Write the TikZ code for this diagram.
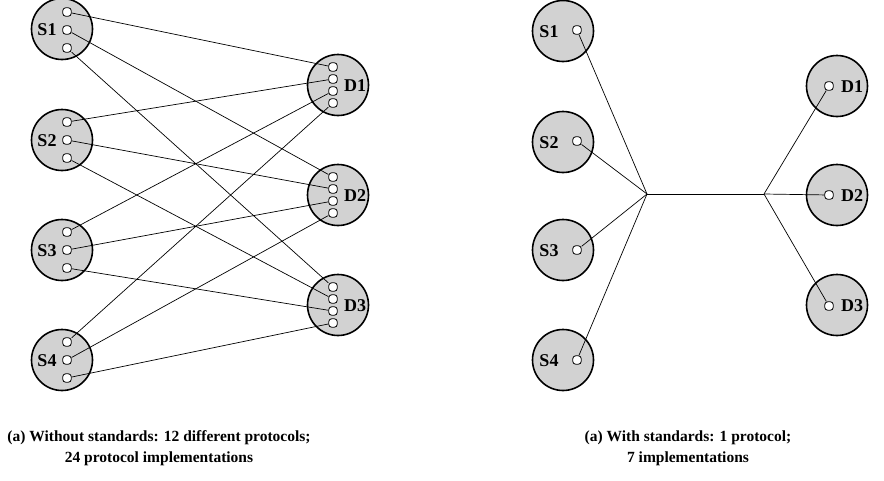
\documentclass[tikz,border=0pt]{standalone}
\usepackage{fontspec}
\setmainfont{Liberation Serif}
\begin{document}
\begin{tikzpicture}[
  x=1pt, y=-1pt,
  line width=0.7pt,
  host/.style = {circle, draw, fill=gray!35, line width=1.6pt, minimum size=61pt, inner sep=0},
  port/.style = {rectangle, rounded corners=3pt, draw, fill=white, line width=0.8pt, minimum size=8.5pt, inner sep=0},
  tag/.style = {font=\bfseries\fontsize{18}{18}\selectfont, inner sep=0},
  caption/.style = {font=\bfseries\fontsize{15.5}{21}\selectfont, align=center},
  ]
  \useasboundingbox (0,0) rectangle (884,480);

  % (a) without standards
  \node[host] (s1) at (62,29) {};
  \node[host] (s2) at (62,140) {};
  \node[host] (s3) at (62,250) {};
  \node[host] (s4) at (62,360) {};
  \node[host] (d1) at (338,85) {};
  \node[host] (d2) at (338,195) {};
  \node[host] (d3) at (338,305) {};

  \node[tag] (s1n) at (47,30) {S1};
  \node[tag] (s2n) at (47,141) {S2};
  \node[tag] (s3n) at (47,251) {S3};
  \node[tag] (s4n) at (47,361) {S4};
  \node[tag] (d1n) at (355,86) {D1};
  \node[tag] (d2n) at (355,196) {D2};
  \node[tag] (d3n) at (355,306) {D3};

  \node[port] (s1a) at (67,12) {};
  \node[port] (s1b) at (67,30) {};
  \node[port] (s1c) at (67,48) {};
  \node[port] (s2a) at (67,122) {};
  \node[port] (s2b) at (67,140) {};
  \node[port] (s2c) at (67,158) {};
  \node[port] (s3a) at (67,232) {};
  \node[port] (s3b) at (67,250) {};
  \node[port] (s3c) at (67,268) {};
  \node[port] (s4a) at (67,342) {};
  \node[port] (s4b) at (67,360) {};
  \node[port] (s4c) at (67,378) {};

  \node[port] (d1a) at (333,67) {};
  \node[port] (d1b) at (333,79) {};
  \node[port] (d1c) at (333,91) {};
  \node[port] (d1d) at (333,103) {};
  \node[port] (d2a) at (333,177) {};
  \node[port] (d2b) at (333,189) {};
  \node[port] (d2c) at (333,201) {};
  \node[port] (d2d) at (333,213) {};
  \node[port] (d3a) at (333,287) {};
  \node[port] (d3b) at (333,299) {};
  \node[port] (d3c) at (333,311) {};
  \node[port] (d3d) at (333,323) {};

  \draw (s1a) -- (d1a);
  \draw (s1b) -- (d2a);
  \draw (s1c) -- (d3a);
  \draw (s2a) -- (d1b);
  \draw (s2b) -- (d2b);
  \draw (s2c) -- (d3b);
  \draw (s3a) -- (d1c);
  \draw (s3b) -- (d2c);
  \draw (s3c) -- (d3c);
  \draw (s4a) -- (d1d);
  \draw (s4b) -- (d2d);
  \draw (s4c) -- (d3d);

  \node[caption] (capa) at (159,448) {(a) Without standards: 12 different protocols;\\24 protocol implementations};

  % (b) with standards
  \node[host] (t1) at (563,31) {};
  \node[host] (t2) at (563,142) {};
  \node[host] (t3) at (563,250) {};
  \node[host] (t4) at (563,360) {};
  \node[host] (e1) at (837,86) {};
  \node[host] (e2) at (837,195) {};
  \node[host] (e3) at (837,305) {};

  \node[tag] (t1n) at (549,32) {S1};
  \node[tag] (t2n) at (549,143) {S2};
  \node[tag] (t3n) at (549,251) {S3};
  \node[tag] (t4n) at (549,361) {S4};
  \node[tag] (e1n) at (852,87) {D1};
  \node[tag] (e2n) at (852,196) {D2};
  \node[tag] (e3n) at (852,306) {D3};

  \node[port] (t1p) at (577,30) {};
  \node[port] (t2p) at (577,141) {};
  \node[port] (t3p) at (577,250) {};
  \node[port] (t4p) at (577,360) {};
  \node[port] (e1p) at (829,86) {};
  \node[port] (e2p) at (829,195) {};
  \node[port] (e3p) at (829,306) {};

  \coordinate (hubs) at (647,194);
  \coordinate (hubd) at (764,194);

  \draw (t1p) -- (hubs);
  \draw (t2p) -- (hubs);
  \draw (t3p) -- (hubs);
  \draw (t4p) -- (hubs);
  \draw (hubs) -- (hubd); % the one protocol
  \draw (hubd) -- (e1p);
  \draw (hubd) -- (e2p);
  \draw (hubd) -- (e3p);

  \node[caption] (capb) at (688,448) {(a) With standards: 1 protocol;\\7 implementations};

\end{tikzpicture}
\end{document}
